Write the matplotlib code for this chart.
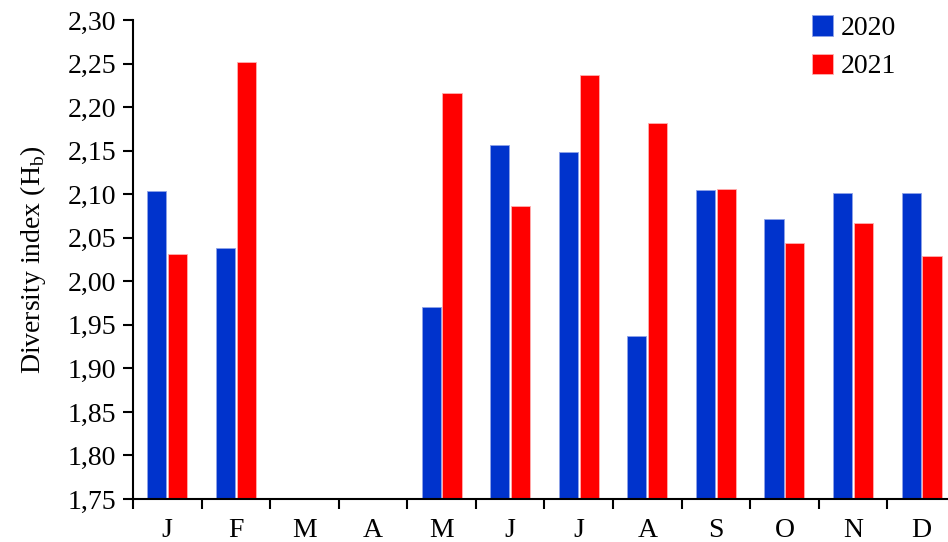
import numpy as np
import matplotlib.pyplot as plt

plt.rcParams['font.family'] = ['Liberation Serif', 'DejaVu Serif']

months = ["J", "F", "M", "A", "M", "J", "J", "A", "S", "O", "N", "D"]
y2020 = [2.104, 2.038, np.nan, np.nan, 1.971, 2.156, 2.149, 1.937, 2.105, 2.071, 2.101, 2.101]
y2021 = [2.031, 2.252, np.nan, np.nan, 2.216, 2.087, 2.237, 2.182, 2.106, 2.044, 2.067, 2.029]

fig = plt.figure(figsize=(9.48, 5.42), dpi=100)
ax = fig.add_axes([0.1403, 0.0793, 0.868, 0.8838])

x = np.arange(len(months))
w = 0.28
ax.bar(x - 0.152, y2020, w, color="#0033cc", edgecolor="#8fa3e8", linewidth=0.6, label="2020")
ax.bar(x + 0.152, y2021, w, color="#ff0000", edgecolor="#ffb0b0", linewidth=0.6, label="2021")

ax.set_ylim(1.75, 2.30)
ax.set_xlim(-0.5, len(months) - 0.5)
yt = np.arange(1.75, 2.301, 0.05)
ax.set_yticks(yt)
ax.set_yticklabels([f"{v:.2f}".replace(".", ",") for v in yt], fontsize=20)

ax.set_xticks(np.arange(-0.5, len(months), 1.0))
ax.set_xticklabels([])
ax.set_xticks(x, minor=True)
ax.set_xticklabels(months, minor=True, fontsize=20)
ax.tick_params(axis="x", which="minor", length=0, pad=14)
ax.tick_params(axis="x", which="major", direction="out", length=7, width=1.5)
ax.tick_params(axis="y", direction="out", length=7, width=1.5, pad=5)

for s in ["top", "right"]:
    ax.spines[s].set_visible(False)
ax.spines["left"].set_linewidth(1.5)
ax.spines["bottom"].set_linewidth(1.5)

ax.set_ylabel("Diversity index (H$_\\mathregular{b}$)", fontsize=20, labelpad=14)

fig.legend(loc="upper left", bbox_to_anchor=(0.83, 1.018), frameon=False, fontsize=20,
           handlelength=0.75, handleheight=0.75, handletextpad=0.3, labelspacing=0.45)

fig.savefig("out.png", dpi=100)
